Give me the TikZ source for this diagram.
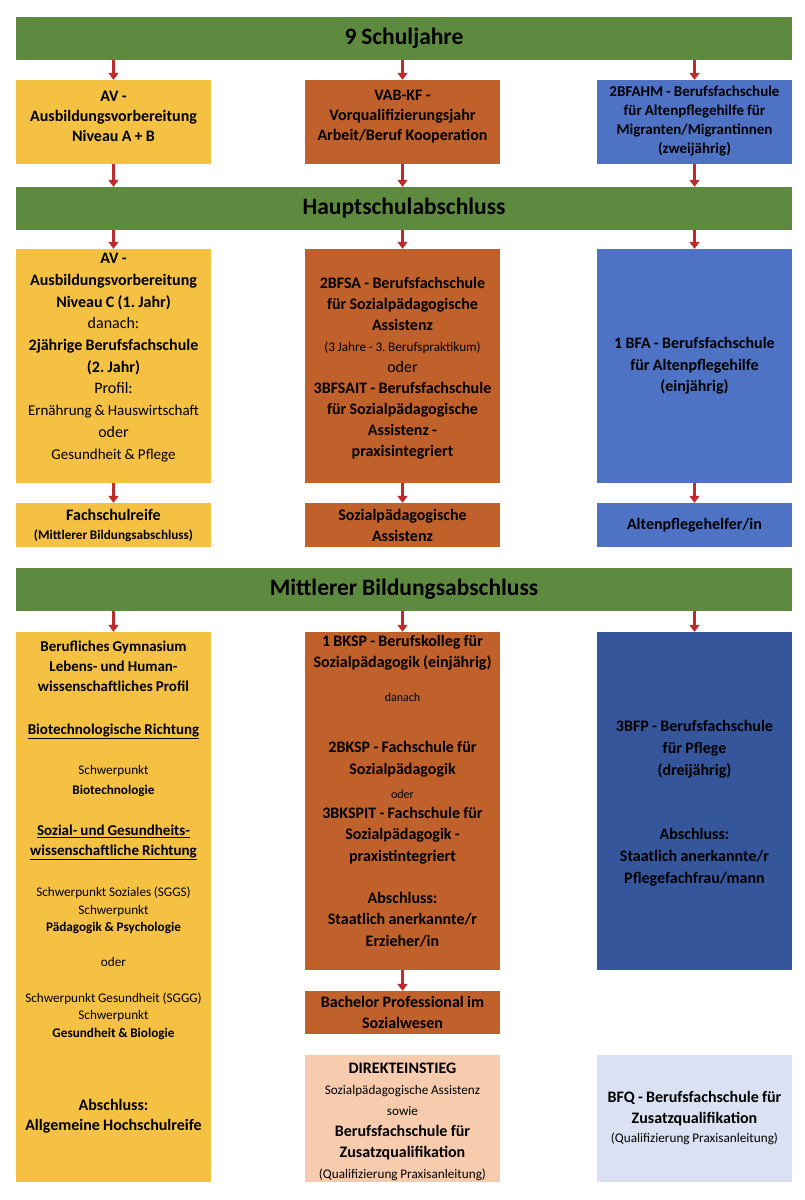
\documentclass[tikz,border=0pt]{standalone}
\usepackage{fontspec}
\setmainfont{Carlito}[WordSpace=0.9]
\usetikzlibrary{arrows.meta,positioning}
\frenchspacing

\definecolor{cGrn}{HTML}{5D8A3E}
\definecolor{cYel}{HTML}{F4C143}
\definecolor{cOra}{HTML}{C0612B}
\definecolor{cBlu}{HTML}{4E72C4}
\definecolor{cDbl}{HTML}{35569A}
\definecolor{cPea}{HTML}{F7CCAE}
\definecolor{cLbl}{HTML}{DAE1F2}
\definecolor{cArr}{HTML}{BF2B2B}

\newcommand{\sm}{\normalfont\fontsize{13.2}{16}\selectfont}
\newcommand{\smb}{\bfseries\fontsize{13.2}{16}\selectfont}
\newcommand{\tn}{\normalfont\fontsize{12}{14}\selectfont}
\newcommand{\rg}{\normalfont}

\begin{document}
\begin{tikzpicture}[x=1pt, y=-1pt,
  bar/.style={fill=cGrn, minimum width=776pt, minimum height=43pt, inner sep=0pt,
              font=\bfseries\fontsize{23.5}{28}\selectfont},
  bx/.style={minimum width=195pt, inner sep=0pt, align=flush center, text width=192pt,
             font=\bfseries\fontsize{16}{21}\selectfont},
  txt/.style={inner sep=0pt, align=flush center, text width=192pt,
              font=\bfseries\fontsize{16}{20}\selectfont},
  yel/.style={bx, fill=cYel},
  ora/.style={bx, fill=cOra},
  blu/.style={bx, fill=cBlu},
  dbl/.style={bx, fill=cDbl},
  pea/.style={bx, fill=cPea},
  lbl/.style={bx, fill=cLbl},
  fl/.style={-{Triangle[width=10pt,length=7pt]}, line width=3.5pt, draw=cArr}]

\useasboundingbox[fill=white] (0,0) rectangle (805,1200);

% the three levels
\node[bar] (bar1) at (404,38.5) {9 Schuljahre};
\node[bar] (bar2) at (404,208.5) {Hauptschulabschluss};
\node[bar] (bar3) at (404,589.5) {Mittlerer Bildungsabschluss};

% after 9 years
\node[yel, minimum height=84pt] (avab) at (113.5,122) {};
\node[txt] (avabt) at (113.5,116.5) {AV -\\Ausbildungsvorbereitung\\Niveau A + B};
\node[ora, minimum height=84pt] (vabkf) at (402.5,122) {};
\node[txt] (vabkft) at (402.5,116.5) {VAB-KF -\\Vorqualifizierungsjahr\\Arbeit/Beruf Kooperation};
\node[blu, minimum height=84pt] (bfahm) at (694.5,122) {};
\node[txt, font=\bfseries\fontsize{15}{19}\selectfont] (bfahmt) at (694.5,121.5)
  {2BFAHM - Berufsfachschule\\für Altenpflegehilfe für\\Migranten/Migrantinnen\\(zweijährig)};

% after Hauptschulabschluss
\node[yel, minimum height=234pt] (avc) at (113.5,366) {};
\node[txt, font=\bfseries\fontsize{16}{21.7}\selectfont] (avct) at (113.5,357.5)
  {AV -\\Ausbildungsvorbereitung\\Niveau C (1. Jahr)\\{\rg danach:}\\2jährige Berufsfachschule\\(2. Jahr)\\{\rg Profil:}\\
   {\rg\fontsize{15}{18}\selectfont Ernährung \& Hauswirtschaft}\\{\rg oder}\\{\rg\fontsize{15}{18}\selectfont Gesundheit \& Pflege}};
\node[ora, minimum height=234pt] (bfsa) at (402.5,366) {};
\node[txt, font=\bfseries\fontsize{16}{21}\selectfont] (bfsat) at (402.5,368)
  {2BFSA - Berufsfachschule\\für Sozialpädagogische\\Assistenz\\{\sm (3 Jahre - 3. Berufspraktikum)}\\{\rg oder}\\
   3BFSAIT - Berufsfachschule\\für Sozialpädagogische\\Assistenz -\\praxisintegriert};
\node[blu, minimum height=234pt, font=\bfseries\fontsize{16}{21.7}\selectfont] (bfa) at (694.5,366)
  {1 BFA - Berufsfachschule\\für Altenpflegehilfe\\(einjährig)};

\node[yel, minimum height=44pt, font=\bfseries\fontsize{16}{19}\selectfont] (fsr) at (113.5,525)
  {Fachschulreife\\{\smb (Mittlerer Bildungsabschluss)}};
\node[ora, minimum height=44pt] (spa) at (402.5,525) {Sozialpädagogische\\Assistenz};
\node[blu, minimum height=44pt] (aph) at (694.5,525) {Altenpflegehelfer/in};

% after Mittlerer Bildungsabschluss
\node[yel, minimum height=550pt] (gym) at (113.5,907) {};
\node[txt, font=\bfseries\fontsize{15}{20}\selectfont] (gymt) at (113.5,887) {%
  Berufliches Gymnasium\\Lebens- und Human-\\wissenschaftliches Profil\\[23pt]
  \underline{Biotechnologische Richtung}\\[20pt]
  {\sm Schwerpunkt}\\{\smb Biotechnologie}\\[21pt]
  \underline{Sozial- und Gesundheits-}\\\underline{wissenschaftliche Richtung}\\[21pt]
  {\sm Schwerpunkt Soziales (SGGS)}\\[-2pt]{\sm Schwerpunkt}\\[-3pt]{\smb Pädagogik \& Psychologie}\\[15pt]
  {\sm oder}\\[16pt]
  {\sm Schwerpunkt Gesundheit (SGGG)}\\[-3pt]{\sm Schwerpunkt}\\[-2pt]{\smb Gesundheit \& Biologie}\\[53pt]
  {\fontsize{16}{20}\selectfont Abschluss:}\\{\fontsize{16}{20}\selectfont Allgemeine Hochschulreife}};
\node[ora, minimum height=338pt] (bksp) at (402.5,801) {};
\node[txt, font=\bfseries\fontsize{16}{21.5}\selectfont] (bkspt) at (402.5,791) {%
  1 BKSP - Berufskolleg für\\Sozialpädagogik (einjährig)\\[12.5pt]
  {\tn danach}\\[29.5pt]
  2BKSP - Fachschule für\\Sozialpädagogik\\[2.5pt]{\tn oder}\\[-1.5pt]
  3BKSPIT - Fachschule für\\Sozialpädagogik -\\praxistintegriert\\[20.5pt]
  Abschluss:\\Staatlich anerkannte/r\\Erzieher/in};
\node[dbl, minimum height=338pt] (bfp) at (694.5,801) {};
\node[txt, font=\bfseries\fontsize{16}{22}\selectfont] (bfpt) at (694.5,803)
  {3BFP - Berufsfachschule\\für Pflege\\(dreijährig)\\[42pt]Abschluss:\\Staatlich anerkannte/r\\Pflegefachfrau/mann};
\node[ora, minimum height=43pt] (bach) at (402.5,1012.5) {Bachelor Professional im\\Sozialwesen};

% direct entry
\node[pea, minimum height=127pt] (dir) at (402.5,1118.5) {};
\node[txt, font=\bfseries\fontsize{16}{21}\selectfont] (dirt) at (402.5,1121.5)
  {DIREKTEINSTIEG\\{\sm Sozialpädagogische Assistenz}\\{\sm sowie}\\Berufsfachschule für\\Zusatzqualifikation\\
   {\sm (Qualifizierung Praxisanleitung)}};
\node[lbl, minimum height=127pt] (bfq) at (694.5,1118.5)
  {BFQ - Berufsfachschule für\\Zusatzqualifikation\\[-2pt]{\sm (Qualifizierung Praxisanleitung)}};

% arrows
\foreach \c in {avab,vabkf,bfahm}{%
  \draw[fl] (\c.north |- bar1.south) -- (\c.north);
  \draw[fl] (\c.south) -- (\c.south |- bar2.north);}
\foreach \c/\d in {avc/fsr,bfsa/spa,bfa/aph}{%
  \draw[fl] (\c.north |- bar2.south) -- (\c.north);
  \draw[fl] (\c.south) -- (\d.north);}
\foreach \c in {gym,bksp,bfp}
  \draw[fl] (\c.north |- bar3.south) -- (\c.north);
\draw[fl] (bksp.south) -- (bach.north);
\end{tikzpicture}
\end{document}
